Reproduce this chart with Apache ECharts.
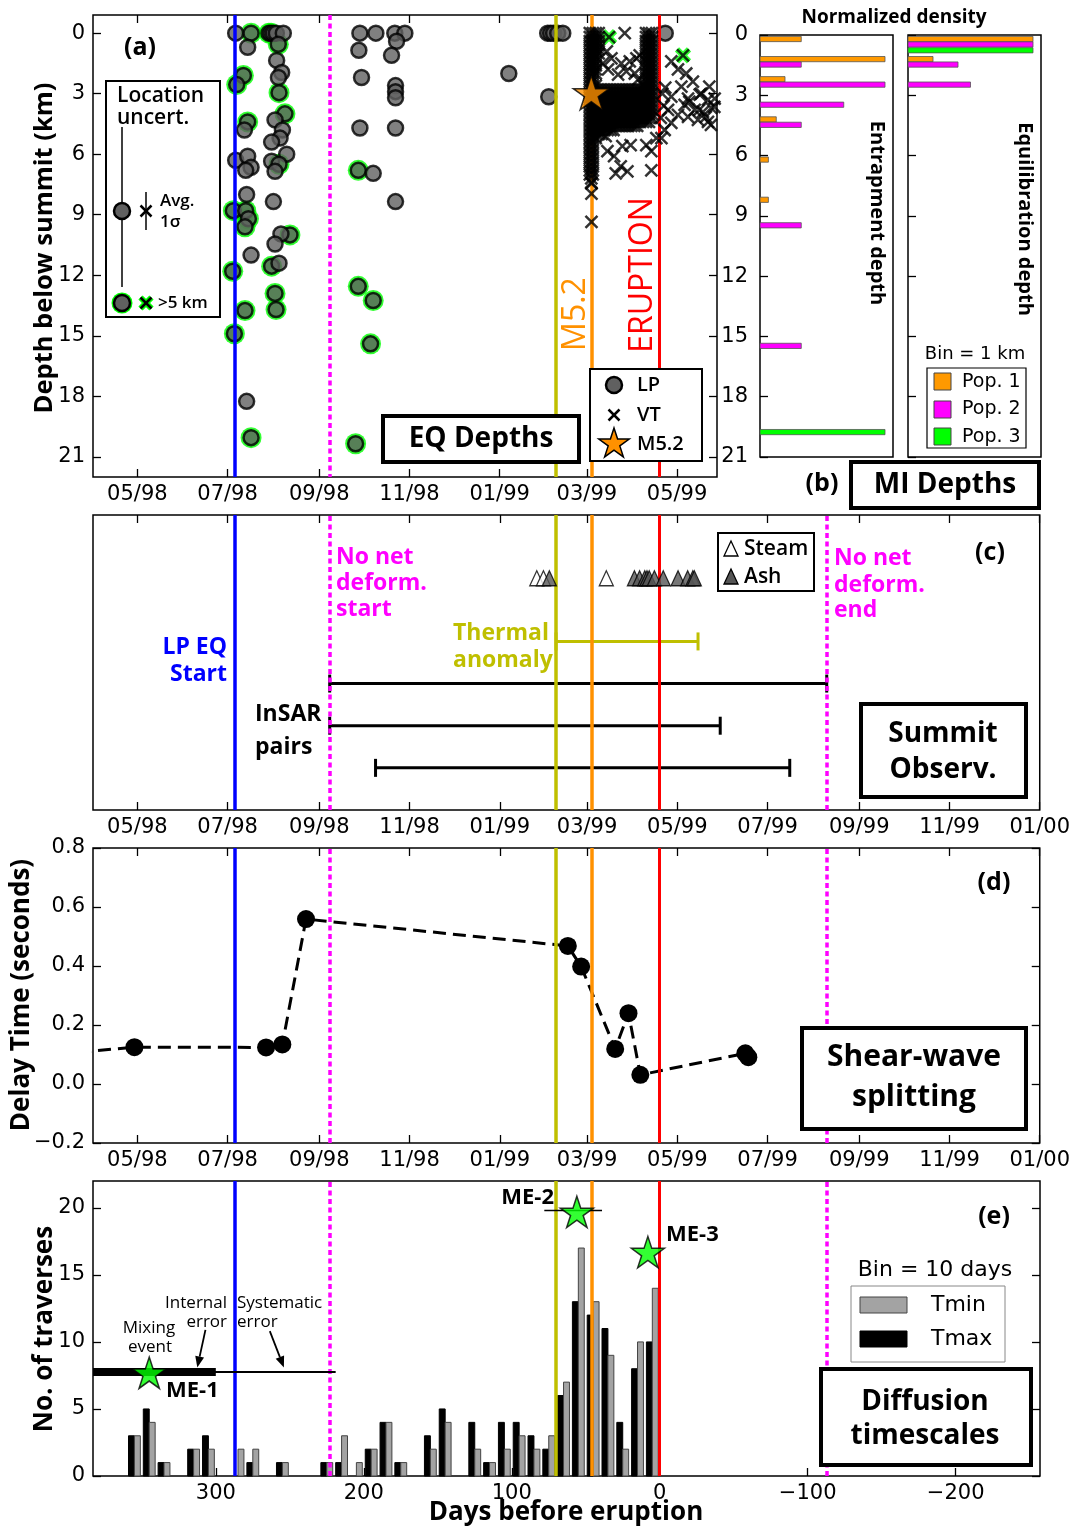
<!DOCTYPE html>
<html><head><meta charset="utf-8">
<script src="https://cdn.jsdelivr.net/npm/echarts@6/dist/echarts.min.js"></script>
<style>html,body{margin:0;padding:0;background:#fff}#c{width:1073px;height:1528px}</style>
</head><body><div id="c"></div><script>
// ================= DATA =================
// time axis: days relative to eruption (19 Apr 1999 = 0)
const dateTickDays = [-353,-292,-230,-169,-108,-49,12,73,135,196,257];
const dateTickLabels = ['05/98','07/98','09/98','11/98','01/99','03/99','05/99','07/99','09/99','11/99','01/00'];
const daysBeforeTicks = [300,200,100,0,-100,-200];
const depthTicks = [0,3,6,9,12,15,18,21];
const delayTicks = [-0.2,0,0.2,0.4,0.6,0.8];
const traverseTicks = [0,5,10,15,20];

const eventLpStart = -287, eventNoDefStart = -223, eventThermal = -70, eventM52 = -46, eventEruption = 0, eventNoDefEnd = 113;

// (a) LP earthquakes: [day, depth km, location uncertainty > 5 km]
const lpEvents = [
 [-286.5,0.0,0],[-276.1,0.0,1],[-278.4,0.7,0],[-281.3,2.1,1],[-285.8,2.55,1],[-278.4,4.4,1],[-280.6,4.8,0],
 [-286.5,6.3,0],[-278.4,6.1,0],[-276.1,6.65,0],[-279.7,6.8,0],[-279.1,8.0,0],[-288.1,8.8,1],[-279.7,8.8,1],
 [-277.9,9.2,1],[-280.2,9.6,1],[-276.1,11.0,0],[-288.5,11.8,1],[-280.2,13.75,1],[-287.4,14.9,1],[-279.1,18.25,0],
 [-276.1,20.05,1],[-264,0.0,1],[-262.6,0.0,1],[-261,0.0,0],[-259,0.0,0],[-254.3,0.0,0],[-257.7,0.55,1],
 [-258.8,1.35,0],[-255.4,1.95,0],[-257.6,2.2,0],[-257.2,2.95,1],[-253.2,4.0,1],[-259.9,4.3,0],[-254.9,4.8,0],
 [-256.5,5.2,0],[-262.2,5.4,0],[-252.0,6.0,0],[-262.2,6.35,0],[-257.2,6.5,1],[-259.9,6.85,0],[-261.0,8.35,0],
 [-249.8,10.0,1],[-255.9,9.95,0],[-259.9,10.45,0],[-262.2,11.55,1],[-257.2,11.4,0],[-259.9,12.9,1],[-259.2,13.7,1],
 [-202.5,0.0,0],[-191.7,0.0,0],[-178.9,0.0,0],[-172.1,0.0,0],[-177.7,0.4,0],[-203.2,0.85,0],[-181.1,1.1,0],
 [-201.4,2.2,0],[-178.4,2.6,0],[-178.4,2.9,0],[-178.4,3.2,0],[-202.5,4.7,0],[-178.4,4.7,0],[-203.6,6.8,1],
 [-193.5,6.95,0],[-178.4,8.35,0],[-203.6,12.55,1],[-193.5,13.25,1],[-195.3,15.4,1],[-205.4,20.35,1],
 [-75.5,0.0,0],[-73.5,0.0,0],[-71.5,0.0,0],[-68.7,0.0,0],[-65.3,0.0,0],[-101.8,2.0,0],[-74.8,3.15,0],[4.0,0.0,0]
];
// (a) VT earthquakes, dense swarm: [depth, [days...]]
const vtRows = [
 [0.0,[-47,-45,-43,-41,-9,-7,-5]],[0.2,[-47,-45,-43,-41,-9,-7,-5]],[0.4,[-47,-45,-43,-41,-9,-7,-5]],
 [0.6,[-47,-45,-43,-41,-9,-7,-5]],[0.8,[-47,-45,-43,-41,-9,-7,-5]],[1.0,[-47,-45,-43,-41,-9,-7,-5]],
 [1.2,[-47,-45,-43,-9,-7,-5]],[1.4,[-47,-45,-43,-9,-7,-5]],[1.6,[-47,-45,-43,-9,-7,-5]],
 [1.8,[-47,-45,-43,-9,-7,-5]],[2.0,[-47,-45,-43,-9,-7,-5]],[2.2,[-47,-45,-9,-7,-5]],[2.4,[-47,-45,-9,-7,-5]],
 [2.6,[-47,-45,-43,-11,-9,-7,-5]],
 [2.8,[-47,-45,-43,-41,-39,-37,-35,-33,-31,-29,-27,-25,-23,-21,-19,-17,-15,-13,-11,-9,-7,-5]],
 [3.0,[-47,-45,-43,-41,-39,-37,-35,-33,-31,-29,-27,-25,-23,-21,-19,-17,-15,-13,-11,-9,-7,-5]],
 [3.2,[-47,-45,-43,-41,-39,-37,-35,-33,-31,-29,-27,-25,-23,-21,-19,-17,-15,-13,-11,-9,-7,-5]],
 [3.4,[-47,-45,-43,-41,-39,-37,-35,-33,-31,-29,-27,-25,-23,-21,-19,-17,-15,-13,-11,-9,-7,-5]],
 [3.6,[-47,-45,-43,-41,-39,-37,-35,-33,-31,-29,-27,-25,-23,-21,-19,-17,-15,-13,-11,-9,-7,-5]],
 [3.8,[-47,-45,-43,-41,-39,-37,-35,-33,-31,-29,-27,-25,-23,-21,-19,-17,-15,-13,-11,-9,-7,-5]],
 [4.0,[-47,-45,-43,-41,-39,-37,-35,-33,-31,-29,-27,-25,-23,-21,-19,-17,-15,-13,-11,-9,-7,-5]],
 [4.2,[-47,-45,-43,-41,-39,-37,-35,-33,-31,-29,-27,-25,-23,-21,-19,-17,-15,-13,-11,-9,-7,-5]],
 [4.4,[-47,-45,-43,-41,-39,-37,-35,-33,-31,-29,-27,-25,-23,-21,-19,-17,-15,-13,-11,-9,-7]],
 [4.6,[-47,-45,-43,-41,-39,-37,-35,-33,-31,-29,-27,-25,-23,-21,-19,-17,-15]],
 [4.8,[-47,-45,-43,-41,-39,-37,-35,-33,-31]],[5.0,[-47,-45,-43,-41,-39]],[5.2,[-47,-45,-43]],
 [5.4,[-47,-45]],[5.6,[-47,-45]],[5.8,[-47,-45]],[6.0,[-47,-45]],[6.2,[-47,-45]],[6.4,[-47,-45]],
 [6.6,[-47,-45]],[6.8,[-47,-45]],[7.0,[-47,-45]],[7.2,[-46]],[7.4,[-46]]
];
// (a) VT earthquakes, scattered: [day, depth]
const vtScatter = [
 [-23.4,0.0],[-35.5,0.9],[-32.4,1.25],[-25.7,1.5],[-20.0,1.4],[-15.5,1.25],[-13.3,1.1],[-22.3,1.9],[-27.9,2.05],
 [-16.6,2.0],[-34.7,1.8],[-38.1,1.5],[-14.4,2.3],[8.1,1.4],[12.6,1.8],[18.2,2.0],[22.7,2.4],[14.9,2.65],[8.1,3.15],
 [19.4,3.25],[27.3,3.05],[32.9,3.3],[37.4,3.25],[35.1,3.7],[29.5,3.9],[23.9,3.8],[17.1,3.55],[12.6,4.05],[8.1,4.45],
 [3.6,4.8],[1.4,5.2],[32.9,4.4],[26.1,4.3],[19.4,4.15],[5.9,3.8],[28.2,3.0],[33.8,2.65],[37.2,3.65],[31.5,4.15],
 [34.9,4.55],[27.0,3.8],[20.3,3.4],[2,3.0],[3,3.6],[1,4.2],[4,2.7],
 [-35.1,5.85],[-30.6,6.1],[-25.0,5.6],[-19.4,5.55],[-26.1,6.6],[-21.6,6.85],[-29.5,6.95],[-5.4,6.8],[-5.4,5.85],
 [-8.8,5.55],[-2.0,5.2],[-36.3,5.1],[-45.9,7.45],[-45.9,7.95],[-45.9,9.35]
];
const vtBigUncert = [[-34,0.2],[16,1.1]];
const m52Quake = [[-46,2.95]];

// (b) melt inclusion depth histograms: [bin start km, normalized density]
const entrapPop1 = [[0,0.33],[1,1.0],[2,0.2],[4,0.13],[6,0.067],[8,0.067]];
const entrapPop2 = [[1,0.33],[2,1.0],[3,0.67],[4,0.33],[9,0.33],[15,0.33]];
const entrapPop3 = [[19,1.0]];
const equilPop1 = [[0,1.0],[1,0.2]];
const equilPop2 = [[0,1.0],[1,0.4],[2,0.5]];
const equilPop3 = [[0,1.0]];

// (c) summit observations
const steamDays = [-83,-78.5,-36];
const ashDays = [-74.5,-17,-13.5,-10,-8.5,-7,-3.5,2.5,12.5,19,22.5,23.5];
const thermalAnomaly = [[-70,26,4]];
const insarPairs = [[-223,113,3],[-223,41,2],[-192,88,1]];

// (d) shear-wave splitting delay times
const swsDays = [-420,-355,-266,-255,-239,-62,-53,-30,-21,-13,58,60];
const swsDelay = [0.095,0.125,0.124,0.134,0.559,0.468,0.398,0.119,0.240,0.031,0.104,0.091];

// (e) diffusion timescales histogram (10-day bins, days before eruption)
const binCenterDays = [355,345,335,325,315,305,295,285,275,265,255,245,235,225,215,205,195,185,175,165,155,145,135,125,115,105,95,85,75,65,55,45,35,25,15,5];
const tmaxCounts = [3,5,1,0,2,3,0,0,1,0,1,0,0,1,1,0,2,4,1,0,3,5,0,4,1,4,4,3,2,6,13,12,11,4,8,10];
const tminCounts = [3,4,1,0,2,2,0,2,2,0,1,0,0,1,3,1,2,4,1,0,2,4,0,2,1,2,3,2,3,7,17,13,9,2,10,14];
const meNames = ['ME-1','ME-2','ME-3'];
const meDays = [345,56,8];
const meCounts = [7.7,19.7,16.7];
// error bars: [from day, to day, level, kind]
const meErrors = [[390,300,7.75,'internal'],[471,219,7.75,'systematic'],[78,39,19.8,'me2']];
// annotation arrows: [tail day, tail level, tip day, tip level]
const errorArrows = [[307,10.9,312.5,8.1],[263.5,10.8,254,8.1]];

// ================= CHART =================
const FONT = '"Open Sans", "Noto Sans", sans-serif';
const TICKFONT = '"DejaVu Sans"';
const C_BLUE='#0000ff', C_MAG='#ff00ff', C_OLIVE='#bfbf00', C_ORANGE='#ff9100', C_RED='#ff0000', C_LIME='#00ff00';
const CROSS = 'path://M0,0L10,10M0,10L10,0';
function starPath(){let s='path://';for(let i=0;i<10;i++){const r=i%2?0.382:1;const a=-Math.PI/2+i*Math.PI/5;s+=(i?'L':'M')+(50+50*r*Math.cos(a)).toFixed(2)+','+(50+50*r*Math.sin(a)).toFixed(2);}return s+'Z';}
const STAR = starPath();

const tick = {show:true, inside:true, length:8, lineStyle:{color:'#000', width:1.3}};
function ax(o){return Object.assign({type:'value', axisLine:{show:false, onZero:false}, splitLine:{show:false}, axisTick:{show:false}, axisLabel:{show:false}}, o);}
function lab(vals, fmt, margin){return {show:true, customValues:vals, formatter:fmt, color:'#000', fontFamily:TICKFONT, fontSize:21, margin:margin};}
const dateLabel = v => dateTickLabels[dateTickDays.indexOf(v)] || '';
const gridBase = {show:true, borderColor:'#000', borderWidth:1.5, backgroundColor:'rgba(0,0,0,0)'};

const grids = [
 Object.assign({left:93, top:15, width:624, height:462}, gridBase),   // a
 Object.assign({left:760, top:35, width:133, height:422}, gridBase),  // b1
 Object.assign({left:908, top:35, width:133, height:422}, gridBase),  // b2
 Object.assign({left:93, top:515, width:947, height:295}, gridBase),  // c
 Object.assign({left:93, top:848, width:947, height:295}, gridBase),  // d
 Object.assign({left:93, top:1181, width:947, height:295}, gridBase)  // e
];
const aDateTicks = dateTickDays.filter(v => v <= 39);
const xAxes = [
 ax({gridIndex:0, min:-383, max:39, position:'bottom', axisTick:Object.assign({customValues:aDateTicks}, tick), axisLabel:lab(aDateTicks, dateLabel, 7)}),
 ax({gridIndex:0, min:-383, max:39, position:'top', axisTick:Object.assign({customValues:aDateTicks}, tick)}),
 ax({gridIndex:1, min:0, max:1.064}),
 ax({gridIndex:2, min:0, max:1.064}),
 ax({gridIndex:3, min:-383, max:257, position:'bottom', axisTick:Object.assign({customValues:dateTickDays}, tick), axisLabel:lab(dateTickDays, dateLabel, 7)}),
 ax({gridIndex:3, min:-383, max:257, position:'top', axisTick:Object.assign({customValues:dateTickDays}, tick)}),
 ax({gridIndex:4, min:-383, max:257, position:'bottom', axisTick:Object.assign({customValues:dateTickDays}, tick), axisLabel:lab(dateTickDays, dateLabel, 7)}),
 ax({gridIndex:4, min:-383, max:257, position:'top', axisTick:Object.assign({customValues:dateTickDays}, tick)}),
 ax({gridIndex:5, min:-383, max:257, position:'bottom', axisTick:Object.assign({customValues:daysBeforeTicks.map(d=>-d)}, tick),
    axisLabel:lab(daysBeforeTicks.map(d=>-d), v => v > 0 ? '\u2212' + v : String(-v), 7)})
];
const yAxes = [
 ax({gridIndex:0, min:-0.9, max:22, inverse:true, position:'left', axisTick:Object.assign({customValues:depthTicks}, tick), axisLabel:lab(depthTicks, v=>String(v), 8)}),
 ax({gridIndex:0, min:-0.9, max:22, inverse:true, position:'right', axisTick:Object.assign({customValues:depthTicks}, tick)}),
 ax({gridIndex:1, min:0, max:21, inverse:true, position:'left', axisTick:Object.assign({customValues:depthTicks}, tick), axisLabel:lab(depthTicks, v=>String(v), 12)}),
 ax({gridIndex:2, min:0, max:21, inverse:true, position:'left', axisTick:Object.assign({customValues:depthTicks}, tick)}),
 ax({gridIndex:3, min:0, max:7}),
 ax({gridIndex:4, min:-0.2, max:0.8, position:'left', axisTick:Object.assign({customValues:delayTicks}, tick),
    axisLabel:lab(delayTicks, v => (v < 0 ? '\u2212' : '') + Math.abs(v).toFixed(1), 8)}),
 ax({gridIndex:4, min:-0.2, max:0.8, position:'right', axisTick:Object.assign({customValues:delayTicks}, tick)}),
 ax({gridIndex:5, min:0, max:22, position:'left', axisTick:Object.assign({customValues:traverseTicks}, tick), axisLabel:lab(traverseTicks, v=>String(v), 8)}),
 ax({gridIndex:5, min:0, max:22, position:'right', axisTick:Object.assign({customValues:traverseTicks}, tick)})
];

const vlineDefs = {
 lp:{xAxis:eventLpStart, lineStyle:{color:C_BLUE, width:3.5, type:'solid'}},
 nd1:{xAxis:eventNoDefStart, lineStyle:{color:C_MAG, width:3.5, type:[5,3.5]}},
 th:{xAxis:eventThermal, lineStyle:{color:C_OLIVE, width:3.5, type:'solid'}},
 m5:{xAxis:eventM52, lineStyle:{color:C_ORANGE, width:3.5, type:'solid'}},
 er:{xAxis:eventEruption, lineStyle:{color:C_RED, width:3, type:'solid'}},
 nd2:{xAxis:eventNoDefEnd, lineStyle:{color:C_MAG, width:3.5, type:[5,3.5]}}
};
function vlines(xi, yi, keys){
 return {type:'line', xAxisIndex:xi, yAxisIndex:yi, data:[], z:1, silent:true,
  markLine:{silent:true, symbol:['none','none'], label:{show:false}, animation:false, data:keys.map(k=>vlineDefs[k])}};
}
function hbarSeries(xi, yi, data, color, offset){
 return {type:'custom', xAxisIndex:xi, yAxisIndex:yi, z:3, data:data, silent:true,
  renderItem:(p, api)=>{const c=api.value(0)+offset;const a=api.coord([0,c-0.13]);const b=api.coord([api.value(1),c+0.13]);
   return {type:'rect', shape:{x:a[0], y:Math.min(a[1],b[1]), width:b[0]-a[0], height:Math.abs(b[1]-a[1])}, style:{fill:color, stroke:'#555', lineWidth:0.8}};}};
}
function segSeries(data, color){
 return {type:'custom', xAxisIndex:4, yAxisIndex:4, z:3, data:data, silent:true,
  renderItem:(p, api)=>{const a=api.coord([api.value(0),api.value(2)]);const b=api.coord([api.value(1),api.value(2)]);const h=9;
   const st={stroke:color, lineWidth:3};
   return {type:'group', children:[
    {type:'line', shape:{x1:a[0],y1:a[1],x2:b[0],y2:b[1]}, style:st},
    {type:'line', shape:{x1:a[0],y1:a[1]-h,x2:a[0],y2:a[1]+h}, style:st},
    {type:'line', shape:{x1:b[0],y1:b[1]-h,x2:b[0],y2:b[1]+h}, style:st}]};}};
}
function vbarSeries(counts, color, stroke, side){
 return {type:'custom', xAxisIndex:8, yAxisIndex:7, z:3, silent:true,
  data:binCenterDays.map((c,i)=>[c, counts[i]]),
  renderItem:(p, api)=>{const c=api.value(0), n=api.value(1); if(!n) return null;
   const d0 = side<0 ? c+4 : c, d1 = side<0 ? c : c-4;
   const a=api.coord([-d0, n]); const b=api.coord([-d1, 0]);
   return {type:'rect', shape:{x:a[0], y:a[1], width:b[0]-a[0], height:b[1]-a[1]}, style:{fill:color, stroke:stroke, lineWidth:1}};}};
}

const vtAll = vtRows.flatMap(r => r[1].map(t => [t, r[0]])).concat(vtScatter, vtBigUncert);

const series = [
 // (a)
 vlines(0, 0, ['lp','nd1','th','m5','er']),
 {type:'scatter', xAxisIndex:0, yAxisIndex:0, z:3, silent:true, symbol:'circle', symbolSize:21,
  itemStyle:{color:C_LIME}, data:lpEvents.filter(p=>p[2]).map(p=>[p[0],p[1]])},
 {type:'scatter', xAxisIndex:0, yAxisIndex:0, z:4, silent:true, symbol:'circle', symbolSize:15,
  itemStyle:{color:'#606060', borderColor:'#000', borderWidth:2.5}, data:lpEvents.map(p=>[p[0],p[1]])},
 {type:'scatter', xAxisIndex:0, yAxisIndex:0, z:5, silent:true, symbol:CROSS, symbolSize:12,
  itemStyle:{color:'rgba(0,0,0,0)', borderColor:C_LIME, borderWidth:6}, data:vtBigUncert},
 {type:'scatter', xAxisIndex:0, yAxisIndex:0, z:6, silent:true, symbol:CROSS, symbolSize:12,
  itemStyle:{color:'rgba(0,0,0,0)', borderColor:'#000', borderWidth:2.5}, data:vtAll},
 {type:'scatter', xAxisIndex:0, yAxisIndex:0, z:7, silent:true, symbol:STAR, symbolSize:36, symbolKeepAspect:true,
  itemStyle:{color:C_ORANGE, borderColor:'#000', borderWidth:1.5}, data:m52Quake},
 // (b)
 hbarSeries(2, 2, entrapPop1, '#ff9900', 0.2),
 hbarSeries(2, 2, entrapPop2, C_MAG, 0.47),
 hbarSeries(2, 2, entrapPop3, C_LIME, 0.76),
 hbarSeries(3, 3, equilPop1, '#ff9900', 0.2),
 hbarSeries(3, 3, equilPop2, C_MAG, 0.47),
 hbarSeries(3, 3, equilPop3, C_LIME, 0.76),
 // (c)
 vlines(4, 4, ['lp','nd1','th','m5','er','nd2']),
 segSeries(thermalAnomaly, C_OLIVE),
 segSeries(insarPairs, '#000'),
 {type:'scatter', xAxisIndex:4, yAxisIndex:4, z:5, silent:true, symbol:'triangle', symbolSize:[14,15],
  itemStyle:{color:'#fff', borderColor:'#000', borderWidth:1.3}, data:steamDays.map(t=>[t,5.5])},
 {type:'scatter', xAxisIndex:4, yAxisIndex:4, z:6, silent:true, symbol:'triangle', symbolSize:[14,15],
  itemStyle:{color:'#555', borderColor:'#000', borderWidth:1.3}, data:ashDays.map(t=>[t,5.5])},
 // (d)
 vlines(6, 5, ['lp','nd1','th','m5','er','nd2']),
 {type:'line', xAxisIndex:6, yAxisIndex:5, z:4, silent:true, clip:true, symbol:'circle', symbolSize:18, showAllSymbol:true,
  lineStyle:{color:'#000', width:3, type:[13,7]}, itemStyle:{color:'#000'},
  data:swsDays.map((t,i)=>[t, swsDelay[i]])},
 // (e)
 vlines(8, 7, ['lp','nd1','th','m5','er','nd2']),
 vbarSeries(tmaxCounts, '#000', '#000', -1),
 vbarSeries(tminCounts, '#a3a3a3', '#444', 1),
 {type:'custom', xAxisIndex:8, yAxisIndex:7, z:6, silent:true, clip:true, data:meErrors,
  renderItem:(p, api)=>{const a=api.coord([-api.value(0), api.value(2)]);const b=api.coord([-api.value(1), api.value(2)]);
   const kind = meErrors[p.dataIndex][3]; const w = kind==='internal' ? 8 : (kind==='systematic' ? 2 : 1.5);
   return {type:'line', shape:{x1:a[0],y1:a[1],x2:b[0],y2:b[1]}, style:{stroke:'#000', lineWidth:w}};}},
 {type:'custom', xAxisIndex:8, yAxisIndex:7, z:6, silent:true, data:errorArrows,
  renderItem:(p, api)=>{const a=api.coord([-api.value(0), api.value(1)]);const b=api.coord([-api.value(2), api.value(3)]);
   const dx=b[0]-a[0], dy=b[1]-a[1], L=Math.hypot(dx,dy), ux=dx/L, uy=dy/L, hl=11, hw=4.5;
   const base=[b[0]-ux*hl, b[1]-uy*hl];
   return {type:'group', children:[
    {type:'line', shape:{x1:a[0],y1:a[1],x2:base[0],y2:base[1]}, style:{stroke:'#000', lineWidth:1.8}},
    {type:'polygon', shape:{points:[[b[0],b[1]],[base[0]-uy*hw, base[1]+ux*hw],[base[0]+uy*hw, base[1]-ux*hw]]}, style:{fill:'#000'}}]};}},
 {type:'scatter', xAxisIndex:8, yAxisIndex:7, z:7, silent:true, symbol:STAR, symbolSize:33, symbolKeepAspect:true,
  itemStyle:{color:C_LIME, borderColor:'#000', borderWidth:1.5}, data:meDays.map((d,i)=>[-d, meCounts[i]])}
];

// ---------- text / boxes ----------
const G = [];
function txt(x, y, text, o){o=o||{};G.push({type:'text', x:x, y:y, rotation:o.rot||0, z:101, silent:true,
 style:{text:text, fill:o.color||'#000', font:(o.weight||'bold')+' '+(o.size||24)+'px '+(o.family||FONT), align:o.align||'center', verticalAlign:'middle'}});}
function box(x, y, w, h, lw, stroke){G.push({type:'rect', z:100, silent:true, shape:{x:x,y:y,width:w,height:h}, style:{fill:'#fff', stroke:stroke||'#000', lineWidth:lw}});}
function gline(x1,y1,x2,y2,color,lw){G.push({type:'line', z:101, silent:true, shape:{x1,y1,x2,y2}, style:{stroke:color, lineWidth:lw}});}
function gcircle(cx,cy,r,fill,stroke,lw){G.push({type:'circle', z:101, silent:true, shape:{cx,cy,r}, style:{fill, stroke, lineWidth:lw||0}});}
function gcross(cx,cy,h,color,lw){gline(cx-h,cy-h,cx+h,cy+h,color,lw);gline(cx-h,cy+h,cx+h,cy-h,color,lw);}
function gstar(cx,cy,R,fill){const pts=[];for(let i=0;i<10;i++){const r=i%2?R*0.382:R;const a=-Math.PI/2+i*Math.PI/5;pts.push([cx+r*Math.cos(a),cy+r*Math.sin(a)]);}
 G.push({type:'polygon', z:101, silent:true, shape:{points:pts}, style:{fill, stroke:'#000', lineWidth:1.5}});}
function gtri(cx,cy,fill){G.push({type:'polygon', z:101, silent:true, shape:{points:[[cx,cy-8],[cx-7,cy+7],[cx+7,cy+7]]}, style:{fill, stroke:'#000', lineWidth:1.3}});}
function grect(x,y,w,h,fill,stroke){G.push({type:'rect', z:101, silent:true, shape:{x,y,width:w,height:h}, style:{fill, stroke, lineWidth:1}});}

// (a)
txt(140, 48, '(a)', {size:25});
txt(45, 248, 'Depth below summit (km)', {rot:Math.PI/2, size:25.5});
box(106, 81, 114, 236, 2);
txt(117, 96, 'Location', {align:'left', size:21, weight:'600'});
txt(117, 118, 'uncert.', {align:'left', size:21, weight:'600'});
gline(122, 127, 122, 287, '#000', 1.5);
gcircle(122, 211, 8, '#606060', '#000', 2.5);
gline(146, 192, 146, 230, '#000', 1.5);
gcross(146, 211, 5.5, '#000', 2.5);
txt(160, 201, 'Avg.', {align:'left', size:17, weight:'600'});
txt(160, 222, '1\u03c3', {align:'left', size:17, weight:'600'});
gcircle(122, 303, 10.5, C_LIME, null, 0);
gcircle(122, 303, 8, '#606060', '#000', 2.5);
gcross(146, 303, 5.5, C_LIME, 6);
gcross(146, 303, 5.5, '#000', 2.5);
txt(158, 303, '>5 km', {align:'left', size:17, weight:'600'});
box(383, 416, 196, 46, 4);
txt(481, 439, 'EQ Depths', {size:28});
box(590, 369, 112, 92, 2);
gcircle(614, 385, 8, '#606060', '#000', 2.5); txt(637, 385, 'LP', {align:'left', size:20, weight:'600'});
gcross(614, 415, 5.5, '#000', 2.5); txt(637, 415, 'VT', {align:'left', size:20, weight:'600'});
gstar(614, 444, 16, C_ORANGE); txt(637, 444, 'M5.2', {align:'left', size:20, weight:'600'});
txt(576, 314, 'M5.2', {rot:Math.PI/2, size:32, weight:'normal', color:C_ORANGE});
txt(643, 275, 'ERUPTION', {rot:Math.PI/2, size:32, weight:'normal', color:C_RED});
// (b)
txt(894, 18, 'Normalized density', {size:19});
txt(877, 213, 'Entrapment depth', {rot:-Math.PI/2, size:20});
txt(1025, 219, 'Equilibration depth', {rot:-Math.PI/2, size:20});
txt(975, 354, 'Bin = 1 km', {size:18, weight:'normal', family:TICKFONT});
box(927, 368, 99, 80, 1.2);
grect(934, 373, 17, 17, '#ff9900', '#444'); txt(962, 382, 'Pop. 1', {align:'left', size:19, weight:'normal', family:TICKFONT});
grect(934, 401, 17, 17, C_MAG, '#444'); txt(962, 409, 'Pop. 2', {align:'left', size:19, weight:'normal', family:TICKFONT});
grect(934, 428, 17, 17, C_LIME, '#444'); txt(962, 437, 'Pop. 3', {align:'left', size:19, weight:'normal', family:TICKFONT});
txt(822, 484, '(b)', {size:25});
box(851, 462, 188, 46, 4);
txt(945, 485, 'MI Depths', {size:28});
// (c)
txt(336, 557, 'No net', {align:'left', size:23, color:C_MAG});
txt(336, 583, 'deform.', {align:'left', size:23, color:C_MAG});
txt(336, 609, 'start', {align:'left', size:23, color:C_MAG});
txt(227, 647, 'LP EQ', {align:'right', size:23, color:C_BLUE});
txt(227, 674, 'Start', {align:'right', size:23, color:C_BLUE});
txt(453, 633, 'Thermal', {align:'left', size:23, color:C_OLIVE});
txt(453, 660, 'anomaly', {align:'left', size:23, color:C_OLIVE});
txt(255, 714, 'InSAR', {align:'left', size:23});
txt(255, 747, 'pairs', {align:'left', size:23});
txt(834, 558, 'No net', {align:'left', size:23, color:C_MAG});
txt(834, 585, 'deform.', {align:'left', size:23, color:C_MAG});
txt(834, 610, 'end', {align:'left', size:23, color:C_MAG});
txt(990, 553, '(c)', {size:25});
box(718, 533, 96, 58, 2);
gtri(731, 549, '#fff'); txt(744, 549, 'Steam', {align:'left', size:21, weight:'600'});
gtri(731, 577, '#555'); txt(744, 577, 'Ash', {align:'left', size:21, weight:'600'});
box(861, 704, 165, 93, 4);
txt(943, 734, 'Summit', {size:28});
txt(943, 770, 'Observ.', {size:28});
// (d)
txt(22, 995, 'Delay Time (seconds)', {rot:Math.PI/2, size:26});
txt(994, 883, '(d)', {size:25});
box(802, 1028, 224, 101, 4);
txt(914, 1057, 'Shear-wave', {size:30});
txt(914, 1097, 'splitting', {size:30});
// (e)
txt(45, 1329, 'No. of traverses', {rot:Math.PI/2, size:26});
txt(566, 1513, 'Days before eruption', {size:26});
txt(994, 1217, '(e)', {size:25});
txt(935, 1270, 'Bin = 10 days', {size:22, weight:'normal', family:TICKFONT});
box(851, 1286, 154, 76, 1, '#888');
grect(860, 1297, 47, 16, '#a3a3a3', '#444'); txt(931, 1305, 'Tmin', {align:'left', size:22, weight:'normal', family:TICKFONT});
grect(860, 1331, 47, 16, '#000', '#000'); txt(931, 1339, 'Tmax', {align:'left', size:22, weight:'normal', family:TICKFONT});
box(821, 1369, 210, 96, 4);
txt(925, 1402, 'Diffusion', {size:28});
txt(925, 1436, 'timescales', {size:28});
txt(149, 1328, 'Mixing', {size:17, weight:'normal'});
txt(150, 1347, 'event', {size:17, weight:'normal'});
txt(227, 1303, 'Internal', {align:'right', size:17, weight:'normal'});
txt(227, 1322, 'error', {align:'right', size:17, weight:'normal'});
txt(237, 1303, 'Systematic', {align:'left', size:17, weight:'normal'});
txt(237, 1322, 'error', {align:'left', size:17, weight:'normal'});
txt(166, 1391, meNames[0], {align:'left', size:22});
txt(554, 1198, meNames[1], {align:'right', size:22});
txt(666, 1235, meNames[2], {align:'left', size:22});

const chart = echarts.init(document.getElementById('c'), null, {renderer:'canvas', width:1073, height:1528});
chart.setOption({
 animation:false, backgroundColor:'#fff',
 grid:grids, xAxis:xAxes, yAxis:yAxes, series:series, graphic:G
});
</script></body></html>
